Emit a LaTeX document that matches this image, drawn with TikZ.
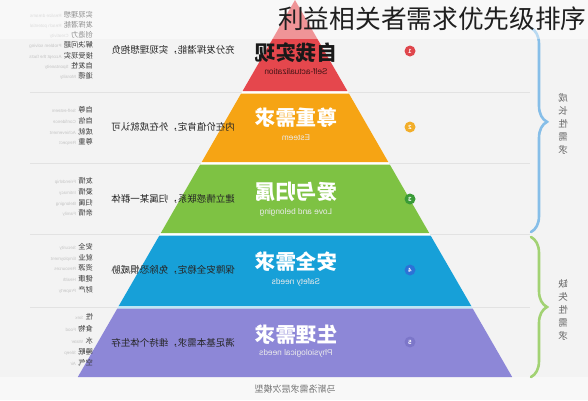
\documentclass[tikz,border=0pt]{standalone}
\usepackage{fontspec}
\setmainfont{Noto Sans CJK SC}
\newfontfamily\latf{Liberation Sans}
\usetikzlibrary{decorations.pathreplacing}
\definecolor{bg}{HTML}{F3F3F3}
\definecolor{bgl}{HTML}{F8F8F8}
\definecolor{sep}{HTML}{E2E2E2}
\definecolor{lred}{HTML}{E5474D}
\definecolor{lorange}{HTML}{F6A414}
\definecolor{lgreen}{HTML}{7EC243}
\definecolor{lblue}{HTML}{17A0D8}
\definecolor{lpurple}{HTML}{8D87D7}
\definecolor{cred}{HTML}{DF464C}
\definecolor{corange}{HTML}{F2AE2A}
\definecolor{cgreen}{HTML}{3A9B37}
\definecolor{cblue}{HTML}{2C72D6}
\definecolor{cpurple}{HTML}{7C76C9}
\definecolor{bblue}{HTML}{86BEE8}
\definecolor{bgreen}{HTML}{A2D273}
\definecolor{lgray}{HTML}{C4C4C4}
\definecolor{gapc}{HTML}{BEE6F4}
\newcommand\rc[1]{\reflectbox{#1}}
\newcommand\lbl[2]{\reflectbox{#1\hspace{2.5pt}{\latf\fontsize{4.5}{5}\selectfont\color{lgray}#2}}}
\tikzset{
  desc/.style={font=\fontsize{9.5}{11}\selectfont, text=black!85, inner sep=0pt, anchor=east},
  ltitle/.style={font=\fontsize{20.5}{22}\selectfont\bfseries, text=white, inner sep=0pt},
  lsub/.style={font=\latf\fontsize{8.3}{9}\selectfont, text=white!92!black, inner sep=0pt},
  side/.style={font=\fontsize{7.2}{9}\selectfont, text=black!78, inner sep=0pt, anchor=east, align=right},
  numc/.style={circle, minimum size=11pt, inner sep=0pt, text=white, font=\latf\fontsize{6}{6}\selectfont\bfseries},
  brc/.style={line width=2.6pt, line cap=round, decorate, decoration={brace, amplitude=16pt}},
  vtext/.style={font=\fontsize{9.5}{13}\selectfont, text=black!60, inner sep=0pt, align=center}
}
\begin{document}
\begin{tikzpicture}[x=1pt,y=-1pt]
\useasboundingbox (0,0) rectangle (588,400);
\clip (0,0) rectangle (588,400);
\fill[bg] (0,0) rectangle (588,400);
\fill[bgl] (0,377) rectangle (588,400);
% separator lines
\foreach \yy in {92,163,234.5,307.5} \draw[sep, line width=0.8pt] (30,\yy) -- (530,\yy);
% pyramid
\fill[white] (295,0) -- (512.2,377) -- (77.8,377) -- cycle;
\fill[lred] (295,0) -- (347.4,91) -- (242.6,91) -- cycle;
\fill[lorange] (241.1,93.5) -- (348.9,93.5) -- (388.3,162) -- (201.7,162) -- cycle;
\fill[lgreen] (200.2,164.5) -- (389.8,164.5) -- (429.2,233) -- (160.8,233) -- cycle;
\fill[lblue] (159.4,235.5) -- (430.6,235.5) -- (471.3,306) -- (118.7,306) -- cycle;
\fill[gapc] (118.7,306) -- (471.3,306) -- (472.7,308.5) -- (117.3,308.5) -- cycle;
\fill[lpurple] (117.3,308.5) -- (472.7,308.5) -- (512.2,377) -- (77.8,377) -- cycle;
% layer titles
\node[ltitle, text=black!90] (t1) at (296,53) {\rc{自我实现}};
\node[lsub, text=black!70!lred] (s1) at (296,72) {\rc{Self-actualization}};
\node[ltitle] (t2) at (296,118) {\rc{尊重需求}};
\node[lsub] (s2) at (296,138) {\rc{Esteem}};
\node[ltitle] (t3) at (296,192) {\rc{爱与归属}};
\node[lsub] (s3) at (296,212) {\rc{Love and belonging}};
\node[ltitle] (t4) at (296,262) {\rc{安全需求}};
\node[lsub] (s4) at (296,282) {\rc{Safety needs}};
\node[ltitle] (t5) at (296,335) {\rc{生理需求}};
\node[lsub] (s5) at (296,353) {\rc{Physiological needs}};
% descriptions
\node[desc] (d1) at (235,50) {\rc{充分发挥潜能，实现理想抱负}};
\node[desc] (d2) at (235,127) {\rc{内在价值肯定，外在成就认可}};
\node[desc] (d3) at (235,199) {\rc{建立情感联系，归属某一群体}};
\node[desc] (d4) at (235,270) {\rc{保障安全稳定，免除恐惧威胁}};
\node[desc] (d5) at (235,343) {\rc{满足基本需求，维持个体生存}};
% numbers
\node[numc, fill=cred] (n1) at (410,51) {\rc{1}};
\node[numc, fill=corange] (n2) at (410,127) {\rc{2}};
\node[numc, fill=cgreen] (n3) at (410,199) {\rc{3}};
\node[numc, fill=cblue] (n4) at (410,270) {\rc{4}};
\node[numc, fill=cpurple] (n5) at (410,342) {\rc{5}};
% left lists
\node[side] (a1) at (93,14.5) {\lbl{实现理想}{Realize dreams}};
\node[side] (a2) at (93,24.8) {\lbl{发挥潜能}{Reach potential}};
\node[side] (a3) at (93,35.1) {\lbl{创造力}{Creativity}};
\node[side] (a4) at (93,45.4) {\lbl{解决问题}{Problem solving}};
\node[side] (a5) at (93,55.7) {\lbl{接受现实}{Accept the facts}};
\node[side] (a6) at (93,66) {\lbl{自发性}{Spontaneity}};
\node[side] (a7) at (93,76.3) {\lbl{道德}{Morality}};
\node[side] (b1) at (93,110) {\lbl{自尊}{Self-esteem}};
\node[side] (b2) at (93,121) {\lbl{自信}{Confidence}};
\node[side] (b3) at (93,132) {\lbl{成就}{Achievement}};
\node[side] (b4) at (93,142) {\lbl{尊重}{Respect}};
\node[side] (c1) at (93,181) {\lbl{友情}{Friendship}};
\node[side] (c2) at (93,192) {\lbl{爱情}{Intimacy}};
\node[side] (c3) at (93,202.5) {\lbl{归属}{Belonging}};
\node[side] (c4) at (93,213) {\lbl{亲情}{Family}};
\node[side] (e1) at (93,247) {\lbl{安全}{Security}};
\node[side] (e2) at (93,257.5) {\lbl{就业}{Employment}};
\node[side] (e3) at (93,268) {\lbl{资源}{Resources}};
\node[side] (e4) at (93,279) {\lbl{健康}{Health}};
\node[side] (e5) at (93,290) {\lbl{财产}{Property}};
\node[side] (f1) at (93,317) {\lbl{性}{Sex}};
\node[side] (f2) at (93,329) {\lbl{食物}{Food}};
\node[side] (f3) at (93,341) {\lbl{水}{Water}};
\node[side] (f4) at (93,352) {\lbl{睡眠}{Sleep}};
\node[side] (f5) at (93,363) {\lbl{空气}{Air}};
% braces
\coordinate (ba) at (531,28);
\coordinate (bb) at (531,232);
\coordinate (ga) at (531,237);
\coordinate (gb) at (531,377);
\draw[brc, bblue, decoration={aspect=0.46}] (ba) -- (bb);
\draw[brc, bgreen] (ga) -- (gb);
\node[vtext] (v1) at (563,124) {\rc{成}\\\rc{长}\\\rc{性}\\\rc{需}\\\rc{求}};
\node[vtext] (v2) at (563,310) {\rc{缺}\\\rc{失}\\\rc{性}\\\rc{需}\\\rc{求}};
% bottom caption
\node[font=\fontsize{9}{10}\selectfont, text=black!55, inner sep=0pt] (cap) at (295,389) {\rc{马斯洛需求层次模型}};
% top overlay and title
\fill[white, opacity=0.42] (0,0) rectangle (588,39);
\node[font=\fontsize{25.7}{27}\selectfont, text=black!88, inner sep=0pt, anchor=west] (title) at (278,19) {利益相关者需求优先级排序};
\end{tikzpicture}
\end{document}
